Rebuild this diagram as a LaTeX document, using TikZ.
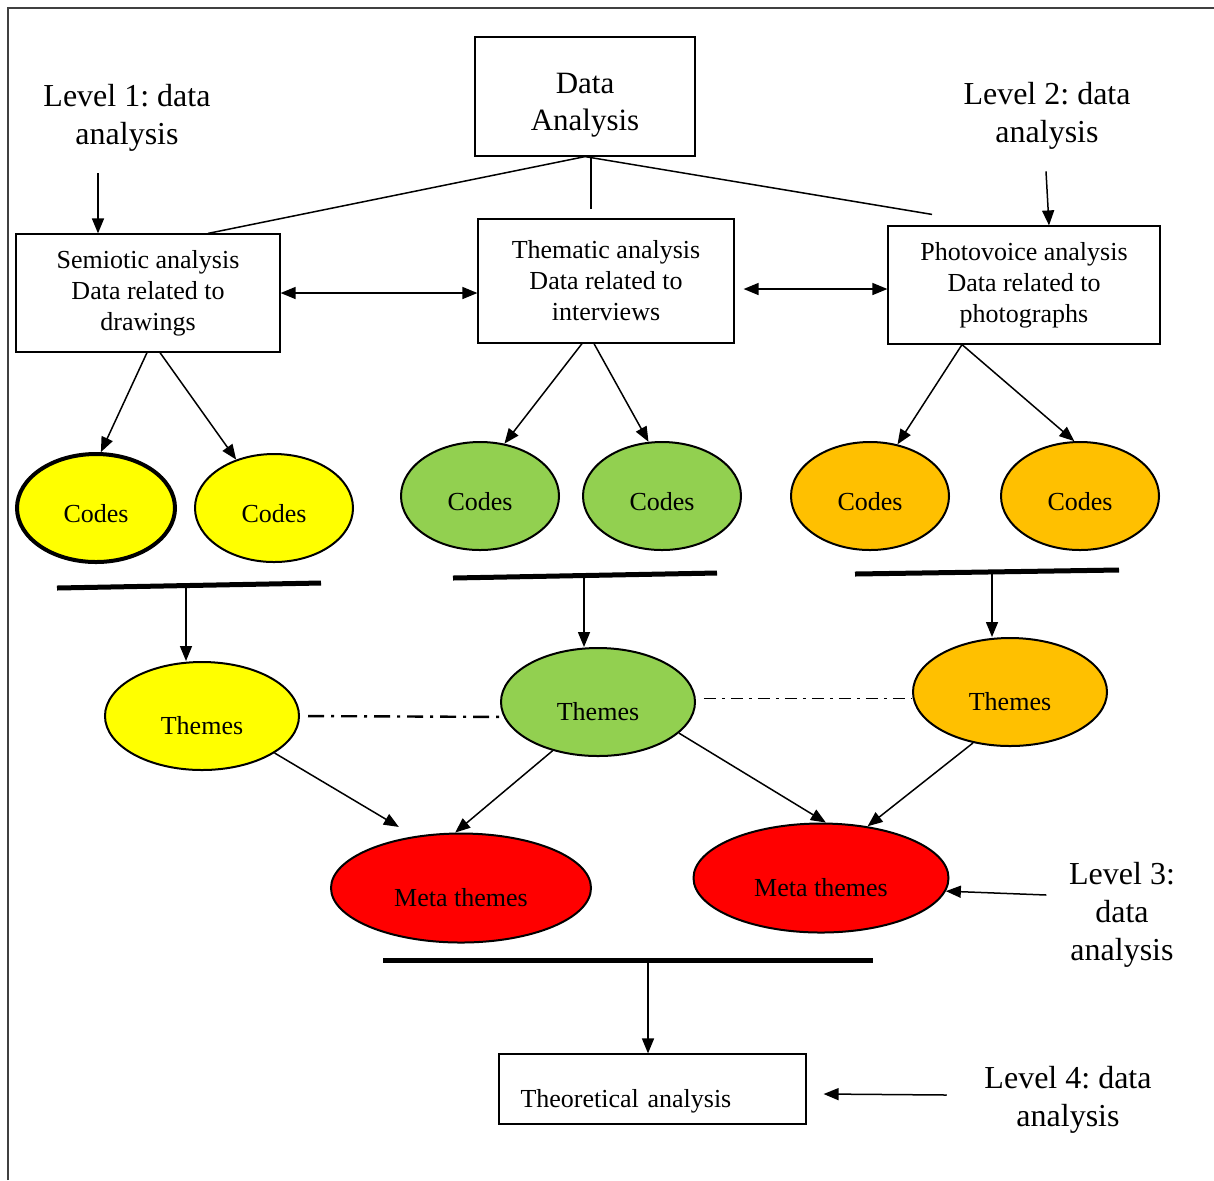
\documentclass[tikz,border=0pt]{standalone}
\usepackage{fontspec}
\setmainfont{Liberation Serif}
\usepackage{tikz}
\usetikzlibrary{arrows.meta,shapes.geometric}
\definecolor{codeyellow}{HTML}{FFFF00}
\definecolor{codegreen}{HTML}{92D050}
\definecolor{codeorange}{HTML}{FFC000}
\definecolor{metared}{HTML}{FF0000}
\newcommand{\lvfont}{\fontsize{16}{19}\selectfont}
\newcommand{\bxfont}{\fontsize{13}{15.5}\selectfont}
\frenchspacing

\begin{document}
\begin{tikzpicture}[x=0.5pt,y=-0.5pt,font=\bxfont,line width=0.75pt,
  arr/.style={-{Triangle[length=7.5pt,width=6pt]}},
  dbl/.style={{Triangle[length=7.5pt,width=6pt]}-{Triangle[length=7.5pt,width=6pt]}},
  box/.style={draw,line width=0.6pt,align=center,inner sep=0pt},
  lvl/.style={font=\lvfont,align=center,inner sep=0pt},
  codes/.style={ellipse,draw,line width=1pt,inner sep=0pt,minimum width=79pt,minimum height=54pt,text height=14pt,text depth=0pt},
  themes/.style={ellipse,draw,line width=1pt,inner sep=0pt,minimum width=97pt,minimum height=54pt,text height=18pt,text depth=0pt},
  meta/.style={ellipse,draw,line width=1pt,inner sep=0pt,fill=metared,minimum width=130pt,minimum height=54.5pt,text height=18pt,text depth=0pt},
  bar/.style={line width=2.5pt}]
\useasboundingbox (0,0) rectangle (1214,1180);
\draw[line width=0.8pt,black!75] (8,1180) -- (8,8) -- (1214,8);

\node[box,minimum width=110pt,minimum height=59.5pt,text height=37.5pt,font=\fontsize{15.5}{18.5}\selectfont] (da) at (585,96.5) {Data\\Analysis};
\node[lvl] (l1) at (127,118) {Level 1: data\\analysis};
\node[lvl] (l2) at (1047,116) {Level 2: data\\analysis};
\node[box,minimum width=132pt,minimum height=59pt] (sem) at (148,293) {Semiotic analysis\\Data related to\\drawings};
\node[box,minimum width=128pt,minimum height=62pt] (th) at (606,281) {Thematic analysis\\Data related to\\interviews};
\node[box,minimum width=136pt,minimum height=59pt] (pv) at (1024,285) {Photovoice analysis\\Data related to\\photographs};

\node[codes,fill=codeyellow,line width=2pt] (c1) at (96,508) {Codes};
\node[codes,fill=codeyellow] (c2) at (274,508) {Codes};
\node[codes,fill=codegreen] (c3) at (480,496) {Codes};
\node[codes,fill=codegreen] (c4) at (662,496) {Codes};
\node[codes,fill=codeorange] (c5) at (870,496) {Codes};
\node[codes,fill=codeorange] (c6) at (1080,496) {Codes};

\node[themes,fill=codeyellow] (t1) at (202,716) {Themes};
\node[themes,fill=codegreen] (t2) at (598,702) {Themes};
\node[themes,fill=codeorange] (t3) at (1010,692) {Themes};

\node[meta] (m1) at (461,888) {Meta themes};
\node[meta,minimum width=127.5pt] (m2) at (821,878) {Meta themes};
\node[lvl] (l3) at (1122,915) {Level 3:\\data\\analysis};

\node[box,minimum width=153.5pt,minimum height=35pt,text width=132pt,inner xsep=10.5pt,align=left,text height=18pt,text depth=0pt] (ta) at (652.5,1089) {Theoretical analysis};
\node[lvl] (l4) at (1068,1100) {Level 4: data\\analysis};

\coordinate (b1a) at (57,588); \coordinate (b1b) at (321,583); \coordinate (b1m) at (186,586);
\coordinate (b2a) at (453,578); \coordinate (b2b) at (717,573); \coordinate (b2m) at (584,576);
\coordinate (b3a) at (855,574); \coordinate (b3b) at (1119,570); \coordinate (b3m) at (992,572);
\coordinate (b4a) at (383,960); \coordinate (b4b) at (873,960); \coordinate (b4m) at (648,960);

\draw (da.south) -- ([xshift=30pt]sem.north);
\draw[shorten >=4.5pt] ([xshift=3pt]da.south) -- ([xshift=-7.5pt]th.north);
\draw (da.south) -- ([xshift=-46pt,yshift=5.5pt]pv.north);
\draw[arr] ([xshift=-25pt,yshift=30pt]sem.north) -- ([xshift=-25pt]sem.north);
\draw[arr] ([xshift=11pt,yshift=27pt]pv.north) -- ([xshift=12.5pt]pv.north);
\draw[dbl] (sem.east) -- (sem.east -| th.west);
\draw[dbl] ([xshift=4.5pt,yshift=-4pt]th.east) -- ([yshift=-2pt]pv.west);

\draw[arr] ([xshift=-0.5pt]sem.south) -- (c1.85);
\draw[arr] ([xshift=6pt]sem.south) -- (c2.128);
\draw[arr] ([xshift=-12pt]th.south) -- (c3.65);
\draw[arr] ([xshift=-6pt]th.south) -- (c4.104);
\draw[arr] ([xshift=-31pt]pv.south) -- (c5.62);
\draw[arr] ([xshift=-31pt]pv.south) -- (c6.96);

\draw[bar] (b1a) -- (b1b);
\draw[bar] (b2a) -- (b2b);
\draw[bar] (b3a) -- (b3b);
\draw[arr] (b1m) -- (b1m |- t1.north);
\draw[arr] (b2m) -- (b2m |- t2.north);
\draw[arr] (b3m) -- (b3m |- t3.north);

\draw[line width=1.2pt,dash pattern=on 8pt off 3.5pt on 1.5pt off 3.5pt,shorten <=4pt] (t1.east) -- (t2.189);
\draw[line width=0.6pt,dash pattern=on 6pt off 3pt on 1.5pt off 3pt,shorten <=4pt] (t2.2) -- (t2.2 -| t3.west);

\draw[arr,shorten >=9pt] (t1.-27) -- (m1.132);
\draw[arr] (t2.227) -- (m1.96);
\draw[arr] (t2.-21) -- (m2.85);
\draw[arr] (t3.234) -- (m2.48);
\draw[arr] ([shift={(-11pt,10pt)}]l3.west) -- (m2.-6);

\draw[bar] (b4a) -- (b4b);
\draw[arr] (b4m) -- (b4m |- ta.north);
\draw[arr] ([shift={(-18.5pt,2.5pt)}]l4.west) -- ([shift={(8.5pt,-2.5pt)}]ta.east);
\end{tikzpicture}
\end{document}
